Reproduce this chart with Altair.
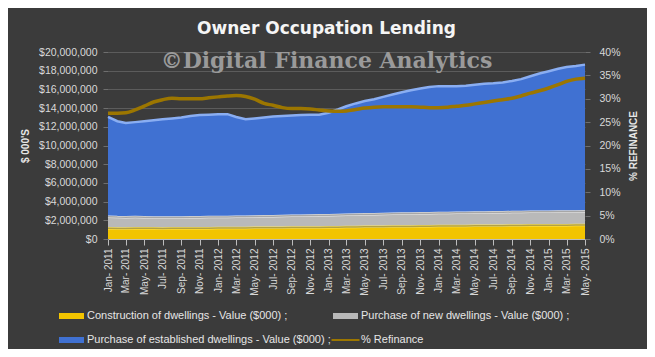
import altair as alt
import pandas as pd

# ---- categories -------------------------------------------------------------
months = pd.date_range("2011-01-01", "2015-05-01", freq="MS")

series_names = [
    "Construction of dwellings - Value ($000) ;",
    "Purchase of new dwellings - Value ($000) ;",
    "Purchase of established dwellings - Value ($000) ;",
    "% Refinance",
]
# legend reading order (Vega fills the 2-column legend column by column)
legend_order = [series_names[0], series_names[2], series_names[1], series_names[3]]

# ---- values (millions of $000) ---------------------------------------------
construction_m = [
    1.14, 1.12, 1.13, 1.15, 1.15, 1.14, 1.13, 1.14, 1.15, 1.15, 1.16, 1.16,
    1.17, 1.17, 1.18, 1.18, 1.19, 1.20, 1.20, 1.21, 1.22, 1.22, 1.23, 1.24,
    1.25, 1.27, 1.28, 1.29, 1.30, 1.31, 1.32, 1.33, 1.34, 1.35, 1.36, 1.37,
    1.38, 1.38, 1.39, 1.40, 1.41, 1.42, 1.42, 1.43, 1.44, 1.45, 1.46, 1.46,
    1.47, 1.47, 1.48, 1.49, 1.50,
]
new_dwellings_m = [
    1.25, 1.22, 1.20, 1.19, 1.18, 1.17, 1.16, 1.16, 1.16, 1.17, 1.17, 1.18,
    1.18, 1.19, 1.20, 1.21, 1.22, 1.23, 1.24, 1.25, 1.26, 1.27, 1.28, 1.29,
    1.30, 1.31, 1.32, 1.33, 1.34, 1.35, 1.36, 1.37, 1.38, 1.38, 1.39, 1.39,
    1.40, 1.40, 1.41, 1.41, 1.42, 1.42, 1.43, 1.43, 1.44, 1.44, 1.45, 1.45,
    1.45, 1.46, 1.46, 1.46, 1.47,
]
established_m = [
    10.66, 10.26, 10.07, 10.16, 10.27, 10.39, 10.51, 10.60, 10.69, 10.83, 10.92, 10.96,
    11.00, 10.99, 10.67, 10.41, 10.49, 10.57, 10.66, 10.69, 10.72, 10.76, 10.79, 10.77,
    10.95, 11.27, 11.60, 11.88, 12.11, 12.29, 12.52, 12.75, 12.98, 13.17, 13.35, 13.49,
    13.57, 13.57, 13.55, 13.59, 13.67, 13.76, 13.80, 13.89, 14.02, 14.21, 14.49, 14.79,
    15.03, 15.27, 15.46, 15.55, 15.68,
]
refinance_pct = [
    26.9, 26.9, 27.0, 27.6, 28.4, 29.3, 29.8, 30.1, 30.0, 30.0, 30.0, 30.2,
    30.4, 30.6, 30.7, 30.5, 29.9, 29.0, 28.6, 28.1, 27.9, 27.9, 27.8, 27.6,
    27.4, 27.3, 27.4, 27.7, 28.0, 28.2, 28.3, 28.3, 28.3, 28.3, 28.2, 28.1,
    28.1, 28.2, 28.4, 28.6, 28.9, 29.2, 29.5, 29.8, 30.1, 30.6, 31.2, 31.7,
    32.3, 33.0, 33.7, 34.2, 34.4,
]

left_ticks = [0, 2000000, 4000000, 6000000, 8000000, 10000000,
              12000000, 14000000, 16000000, 18000000, 20000000]
right_ticks = [0, 0.05, 0.10, 0.15, 0.20, 0.25, 0.30, 0.35, 0.40]

fill_colors = {series_names[0]: "#F2C400", series_names[1]: "#B9B9B9",
               series_names[2]: "#4071D2", series_names[3]: "#9C7600"}
rim_colors = ["#FFE760", "#F0F0F0", "#8AAEF2"]

# ---- tables -----------------------------------------------------------------
rows = []
for i, m in enumerate(months):
    for k, vals in enumerate([construction_m, new_dwellings_m, established_m]):
        rows.append({"date": m, "series": series_names[k], "order": k,
                     "value": vals[i] * 1_000_000})
stack_df = pd.DataFrame(rows)
refi_df = pd.DataFrame({"date": months, "series": series_names[3],
                        "refi": [p / 100 for p in refinance_pct]})

rect_path = "M-1.25,-0.3H1.25V0.3H-1.25Z"
line_path = "M-1.4,-0.1H1.4V0.1H-1.4Z"

color_scale = alt.Scale(domain=legend_order, range=[fill_colors[s] for s in legend_order])
shape_scale = alt.Scale(domain=legend_order,
                        range=[line_path if s == series_names[3] else rect_path
                               for s in legend_order])

legend_def = alt.Legend(
    title=None, orient="none", legendX=-46.5, legendY=254, columns=2,
    columnPadding=0, rowPadding=9, symbolSize=400, labelOffset=5.5,
    labelFont="Liberation Sans", labelFontSize=11, labelColor="#e6e6e6",
    labelLimit=400, padding=0, symbolOpacity=1, symbolStrokeWidth=0,
)

x_enc = alt.X(
    "date:T", title=None,
    scale=alt.Scale(domain=[alt.DateTime(year=2011, month=1, date=1),
                            alt.DateTime(year=2015, month=5, date=1)], nice=False),
    axis=alt.Axis(format="%b- %Y", labelAngle=270,
                  tickCount=alt.TimeIntervalStep(interval="month", step=2),
                  grid=False, domainColor="#bdbdbd", tickColor="#bdbdbd", tickSize=6,
                  labelFont="Liberation Sans", labelFontSize=10, labelColor="#d9d9d9",
                  labelPadding=3, labelOverlap=False, labelFlush=False),
)


def y_left(field):
    return alt.Y(
        field, title="$ 000'S",
        scale=alt.Scale(domain=[0, 20000000], nice=False),
        axis=alt.Axis(values=left_ticks, format="$,.0f", grid=True, gridColor="#5c5c5c",
                      gridWidth=1, domain=False, ticks=True, tickColor="#6e6e6e", tickSize=5,
                      labelPadding=6, labelFont="Liberation Sans Narrow, Liberation Sans",
                      labelFontSize=10.5, labelColor="#d9d9d9",
                      titleFont="Liberation Sans", titleFontSize=10, titleFontWeight="bold",
                      titleColor="#e6e6e6", titlePadding=8),
    )


base = alt.Chart(stack_df).transform_stack(
    stack="value", groupby=["date"], as_=["y0", "y1"],
    sort=[alt.SortField("order", order="ascending")],
)

areas = base.mark_area().encode(
    x=x_enc, y=y_left("y1:Q"), y2="y0:Q",
    color=alt.Color("series:N", scale=color_scale, legend=legend_def),
)
rims = base.mark_line(strokeWidth=2.5).encode(
    x=x_enc, y=y_left("y1:Q"),
    stroke=alt.Stroke("series:N", scale=alt.Scale(domain=series_names[:3], range=rim_colors),
                      legend=None),
    detail="series:N",
)
edges = base.transform_filter("datum.order > 0").mark_line(
    color="#000000", opacity=0.3, strokeWidth=1.5
).encode(x=x_enc, y=y_left("y0:Q"), detail="series:N")

legend_pts = base.transform_filter("false").mark_point(filled=True, opacity=1).encode(
    x=x_enc, y=y_left("y1:Q"),
    color=alt.Color("series:N", scale=color_scale, legend=legend_def),
    shape=alt.Shape("series:N", scale=shape_scale, legend=legend_def),
)

refi_line = alt.Chart(refi_df).mark_line(strokeWidth=3.5, interpolate="monotone").encode(
    x=x_enc,
    y=alt.Y("refi:Q", title="% REFINANCE",
            scale=alt.Scale(domain=[0, 0.4], nice=False),
            axis=alt.Axis(orient="right", values=right_ticks, format=".0%", grid=False,
                          domain=False, ticks=True, tickColor="#6e6e6e", tickSize=5,
                          labelPadding=9, labelFont="Liberation Sans Narrow, Liberation Sans",
                          labelFontSize=10.5, labelColor="#d9d9d9",
                          titleFont="Liberation Sans", titleFontSize=10,
                          titleFontWeight="bold", titleColor="#e6e6e6",
                          titleAngle=270, titlePadding=18)),
    color=alt.Color("series:N", scale=color_scale, legend=legend_def),
)

left = alt.layer(areas, rims, edges, legend_pts)

chart = alt.layer(left, refi_line).resolve_scale(y="independent").properties(
    width=477, height=187,
    title=alt.TitleParams(
        text="Owner Occupation Lending", subtitle="©Digital Finance Analytics",
        anchor="middle", frame="group", dx=-20,
        font="DejaVu Sans", fontSize=17, fontWeight="bold", color="#f5f5f5",
        subtitleFont="DejaVu Serif", subtitleFontSize=22,
        subtitleFontWeight="bold", subtitleColor="#9a9a9a",
        subtitlePadding=13, offset=-26,
    ),
    autosize=alt.AutoSizeParams(type="none"),
    padding={"left": 100, "top": 44, "right": 62, "bottom": 110},
).configure(background="#3b3b3b").configure_view(stroke=None)

chart.save("out.html", embed_options={"renderer": "svg", "actions": False})
